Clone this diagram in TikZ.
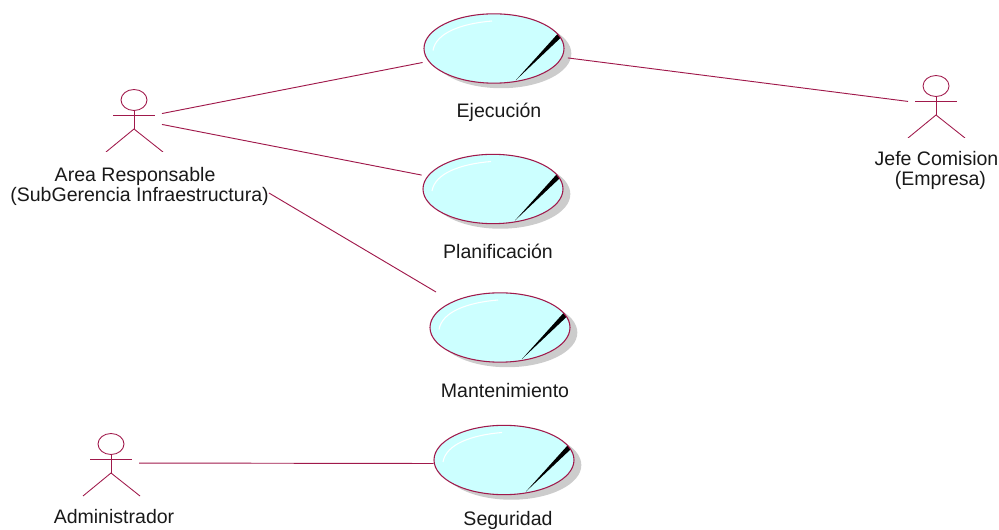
\documentclass[tikz,border=0pt]{standalone}
\usepackage{fontspec}
\setmainfont{Liberation Sans}
\usepackage{xcolor}
\usetikzlibrary{positioning, shapes.geometric, shadows, calc}
\definecolor{roseLine}{RGB}{160,25,75}
\definecolor{roseFill}{RGB}{204,255,255}
\definecolor{roseShadow}{RGB}{204,204,204}
\tikzset{
    usecase/.style={
        ellipse, draw=roseLine, fill=roseFill, line width=0.8pt,
        minimum width=105pt, minimum height=52pt, inner sep=0pt, outer sep=4.5pt,
        drop shadow={shadow xshift=5.5pt, shadow yshift=-3.8pt, fill=roseShadow, opacity=1},
        path picture={
            \fill[black] ([shift={(22,31.5)}]path picture bounding box.center) -- ([shift={(63.5,-14.5)}]path picture bounding box.center) -- ([shift={(67,-11)}]path picture bounding box.center) -- cycle;
            \draw[white, line width=0.8pt] ([shift={(-61,2)}]path picture bounding box.center) .. controls ([shift={(-58,-16)}]path picture bounding box.center) and ([shift={(-32,-25)}]path picture bounding box.center) .. ([shift={(-2,-27.5)}]path picture bounding box.center);
        }
    },
    actor/.style={
        rectangle, minimum width=45pt, minimum height=49.5pt, inner sep=0pt, outer sep=-1.5pt,
        path picture={
            \draw[roseLine, line width=0.65pt] ([shift={(0,-19)}]path picture bounding box.center) ellipse [x radius=13, y radius=10.5];
            \draw[roseLine, line width=0.65pt] ([shift={(-21,-4)}]path picture bounding box.center) -- ([shift={(21,-4)}]path picture bounding box.center);
            \draw[roseLine, line width=0.65pt] ([shift={(0,-8.5)}]path picture bounding box.center) -- ([shift={(0,10)}]path picture bounding box.center);
            \draw[roseLine, line width=0.65pt] ([shift={(-28,33)}]path picture bounding box.center) -- ([shift={(0,10)}]path picture bounding box.center) -- ([shift={(29,33)}]path picture bounding box.center);
        }
    },
    label/.style={font=\fontsize{14.65pt}{15pt}\selectfont, color=black!90, align=center, inner sep=0pt},
    assoc/.style={draw=roseLine, line width=0.7pt}
}
\begin{document}
\begin{tikzpicture}[x=0.75pt, y=-0.75pt]
    \useasboundingbox (0,0) rectangle (999,530);

    \node[usecase] (Ejecucion) at (494,48.5) {};
    \node[usecase] (Planificacion) at (493,189) {};
    \node[usecase] (Mantenimiento) at (500,327.5) {};
    \node[usecase] (Seguridad) at (504,460) {};

    \node[actor] (Area) at (134,119) {};
    \node[actor] (Jefe) at (936,105) {};
    \node[actor] (Admin) at (111,463) {};

    \node[label] (EjecucionLbl) at (499,112.5) {Ejecución};
    \node[label] (PlanificacionLbl) at (498,251.5) {Planificación};
    \node[label] (MantenimientoLbl) at (505,391) {Mantenimiento};
    \node[label] (SeguridadLbl) at (508,520.5) {Seguridad};
    \node[label] (AreaLbl) at (139.5,186) {Area Responsable\hspace*{0.45em}\\(SubGerencia Infraestructura)};
    \node[label] (JefeLbl) at (936.5,170.5) {Jefe Comision\\\hspace*{0.4em}(Empresa)};
    \node[label] (AdminLbl) at (114,517) {Administrador};

    \coordinate (AreaEnd) at ($(AreaLbl.east)+(0,7)$);
    \coordinate (MantEnd) at ($(Mantenimiento)+(-64,-35.5)$);
    \coordinate (SegEnd) at ($(Seguridad.west)+(5.5,3.5)$);

    \draw[assoc] (Area) -- (Ejecucion);
    \draw[assoc] (Area) -- (Planificacion);
    \draw[assoc] (AreaEnd) -- (MantEnd);
    \draw[assoc] (Ejecucion) -- (Jefe);
    \draw[assoc] (Admin) -- (SegEnd);
\end{tikzpicture}
\end{document}
